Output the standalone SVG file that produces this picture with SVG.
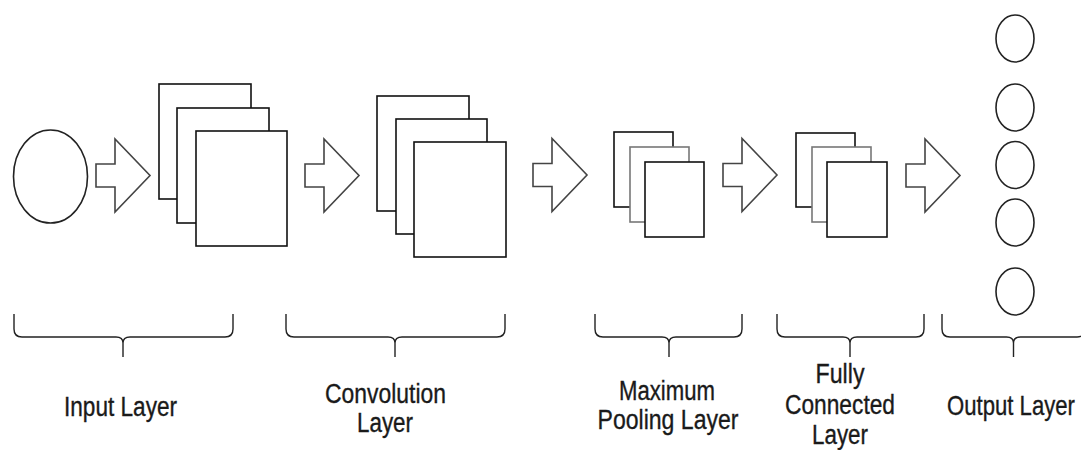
<svg xmlns="http://www.w3.org/2000/svg" xmlns:xlink="http://www.w3.org/1999/xlink" width="1081" height="450" viewBox="0 0 1081 450">
<style>
.bg{fill:#ffffff}
.sheet{fill:#ffffff;stroke:#111;stroke-width:1.6}
.sheet2{fill:#ffffff;stroke:#777;stroke-width:1.6}
.neuron{fill:#ffffff;stroke:#222;stroke-width:1.6}
.arrow{fill:#ffffff;stroke:#444;stroke-width:1.6;stroke-linejoin:miter}
.brace{fill:none;stroke:#222;stroke-width:1.4}
.lbl{font-family:"Liberation Sans",Arial,sans-serif;font-size:27px;fill:#1a1a1a;stroke:#1a1a1a;stroke-width:0.35;text-anchor:middle}
</style>
<defs>
<polygon id="blk" class="arrow" points="0,-11.5 19,-11.5 19,-36.5 54,0 19,36.5 19,11.5 0,11.5"/>
</defs>
<rect class="bg" x="0" y="0" width="1081" height="450"/>

<g id="input-node">
<ellipse class="neuron" cx="50.5" cy="176.5" rx="37" ry="46.5"/>
</g>

<g id="feature-maps-1">
<rect class="sheet" x="159" y="84" width="92" height="115"/>
<rect class="sheet" x="177" y="108" width="92" height="115"/>
<rect class="sheet" x="196" y="131" width="91" height="115"/>
</g>

<g id="convolution-maps">
<rect class="sheet" x="377" y="96" width="92" height="115"/>
<rect class="sheet" x="396" y="119" width="91" height="115"/>
<rect class="sheet" x="414" y="142" width="92" height="115"/>
</g>

<g id="pooling-maps">
<rect class="sheet" x="614" y="132" width="59" height="75"/>
<rect class="sheet2" x="630" y="147" width="59" height="75"/>
<rect class="sheet" x="645" y="162" width="59" height="75"/>
</g>

<g id="fully-connected-maps">
<rect class="sheet" x="796" y="133" width="59" height="74"/>
<rect class="sheet2" x="812" y="147" width="59" height="75"/>
<rect class="sheet" x="827" y="162" width="60" height="75"/>
</g>

<g id="output-nodes">
<ellipse class="neuron" cx="1015" cy="38.5" rx="19" ry="23.5"/>
<ellipse class="neuron" cx="1015" cy="107.5" rx="19" ry="23.5"/>
<ellipse class="neuron" cx="1015" cy="165" rx="19" ry="23.5"/>
<ellipse class="neuron" cx="1015" cy="222.5" rx="19" ry="23.5"/>
<ellipse class="neuron" cx="1015" cy="291.5" rx="19" ry="23.5"/>
</g>

<g id="connectors">
<use xlink:href="#blk" href="#blk" transform="translate(96,175.5)"/>
<use xlink:href="#blk" href="#blk" transform="translate(305,175.5)"/>
<use xlink:href="#blk" href="#blk" transform="translate(533,175)"/>
<use xlink:href="#blk" href="#blk" transform="translate(723,175)"/>
<use xlink:href="#blk" href="#blk" transform="translate(906,175.5)"/>
</g>

<g id="label-input">
<path class="brace" d="M14,314 L14,329 Q14,337 22,337 L116,337 Q123,337 123,343 Q123,337 130,337 L225,337 Q233,337 233,329 L233,314 M123,343 L123,357"/>
<text class="lbl" x="120.5" y="416" textLength="113" lengthAdjust="spacingAndGlyphs">Input Layer</text>
</g>

<g id="label-convolution">
<path class="brace" d="M286,314 L286,329 Q286,337 294,337 L388,337 Q395,337 395,343 Q395,337 402,337 L497,337 Q505,337 505,329 L505,314 M395,343 L395,357"/>
<text class="lbl" x="385.5" y="403" textLength="121" lengthAdjust="spacingAndGlyphs">Convolution</text>
<text class="lbl" x="385" y="432" textLength="56" lengthAdjust="spacingAndGlyphs">Layer</text>
</g>

<g id="label-pooling">
<path class="brace" d="M595,314 L595,329 Q595,337 603,337 L662,337 Q669,337 669,343 Q669,337 676,337 L734,337 Q742,337 742,329 L742,314 M669,343 L669,357"/>
<text class="lbl" x="667" y="400" textLength="96" lengthAdjust="spacingAndGlyphs">Maximum</text>
<text class="lbl" x="668" y="429" textLength="141" lengthAdjust="spacingAndGlyphs">Pooling Layer</text>
</g>

<g id="label-fully-connected">
<path class="brace" d="M777,314 L777,329 Q777,337 785,337 L843,337 Q850,337 850,343 Q850,337 857,337 L916,337 Q924,337 924,329 L924,314 M850,343 L850,357"/>
<text class="lbl" x="840" y="383" textLength="49" lengthAdjust="spacingAndGlyphs">Fully</text>
<text class="lbl" x="840" y="414" textLength="110" lengthAdjust="spacingAndGlyphs">Connected</text>
<text class="lbl" x="840" y="444" textLength="56" lengthAdjust="spacingAndGlyphs">Layer</text>
</g>

<g id="label-output">
<path class="brace" d="M942,314 L942,329 Q942,337 950,337 L1006.5,337 Q1013.5,337 1013.5,343 Q1013.5,337 1020.5,337 L1077,337 Q1085,337 1085,329 L1085,314 M1013.5,343 L1013.5,357"/>
<text class="lbl" transform="translate(1011,415) scale(0.82,1)" x="0" y="0">Output Layer</text>
</g>
</svg>
